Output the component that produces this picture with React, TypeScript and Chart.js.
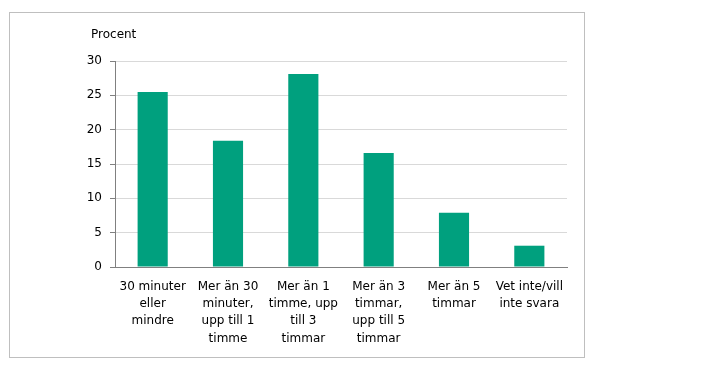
import React, { useEffect, useRef } from "react";
import { Chart, registerables } from "chart.js";

Chart.register(...registerables);

const categories: string[][] = [
  ["30 minuter", "eller", "mindre"],
  ["Mer än 30", "minuter,", "upp till 1", "timme"],
  ["Mer än 1", "timme, upp", "till 3", "timmar"],
  ["Mer än 3", "timmar,", "upp till 5", "timmar"],
  ["Mer än 5", "timmar"],
  ["Vet inte/vill", "inte svara"],
];
const values: number[] = [25.5, 18.4, 28.1, 16.6, 7.9, 3.1];
const yTitle = "Procent";
const yMin = 0;
const yMax = 30;
const yStep = 5;

const FONT = "'DejaVu Sans', Verdana, sans-serif";

export default function App() {
  const ref = useRef<HTMLCanvasElement | null>(null);
  useEffect(() => {
    if (!ref.current) return;
    const titlePlugin = {
      id: "ytitle",
      afterDraw(chart: any) {
        const { ctx, chartArea } = chart;
        ctx.save();
        ctx.font = `12px ${FONT}`;
        ctx.fillStyle = "#000";
        ctx.textAlign = "left";
        ctx.textBaseline = "middle";
        ctx.fillText(yTitle, chartArea.left - 24, chartArea.top - 26);
        ctx.restore();
      },
    };
    const chart = new Chart(ref.current, {
      type: "bar",
      data: {
        labels: categories,
        datasets: [
          {
            data: values,
            backgroundColor: "#00A07E",
            borderWidth: 0,
            barPercentage: 0.4,
            categoryPercentage: 1.0,
          },
        ],
      },
      options: {
        responsive: false,
        animation: false,
        devicePixelRatio: 1,
        layout: { padding: { left: 57, right: 126, top: 53, bottom: 0 } },
        plugins: {
          legend: { display: false },
          tooltip: { enabled: false },
          title: { display: false },
        },
        scales: {
          x: {
            grid: { display: false, drawTicks: false },
            border: { display: true, color: "#808080", width: 1 },
            ticks: {
              color: "#000",
              padding: 11,
              maxRotation: 0,
              minRotation: 0,
              autoSkip: false,
              font: { family: FONT, size: 12, lineHeight: 1.44 },
            },
            afterFit(scale: any) {
              scale.height = 98;
            },
          },
          y: {
            min: yMin,
            max: yMax,
            grid: {
              color: "#d9d9d9",
              tickColor: "#808080",
              tickLength: 5,
              lineWidth: 1,
            },
            border: { display: true, color: "#808080", width: 1 },
            ticks: {
              stepSize: yStep,
              color: "#000",
              padding: 8,
              font: { family: FONT, size: 12 },
            },
            afterFit(scale: any) {
              scale.width = 50;
            },
          },
        },
      },
      plugins: [titlePlugin],
    });
    return () => chart.destroy();
  }, []);

  return (
    <div style={{ position: "relative", width: 685, height: 357 }}>
      <div
        style={{
          position: "absolute",
          left: 1,
          top: 4,
          width: 576,
          height: 346,
          boxSizing: "border-box",
          border: "1px solid #bfbfbf",
        }}
      />
      <canvas
        ref={ref}
        width={685}
        height={357}
        style={{ position: "absolute", left: 0, top: 0, width: 685, height: 357 }}
      />
    </div>
  );
}
